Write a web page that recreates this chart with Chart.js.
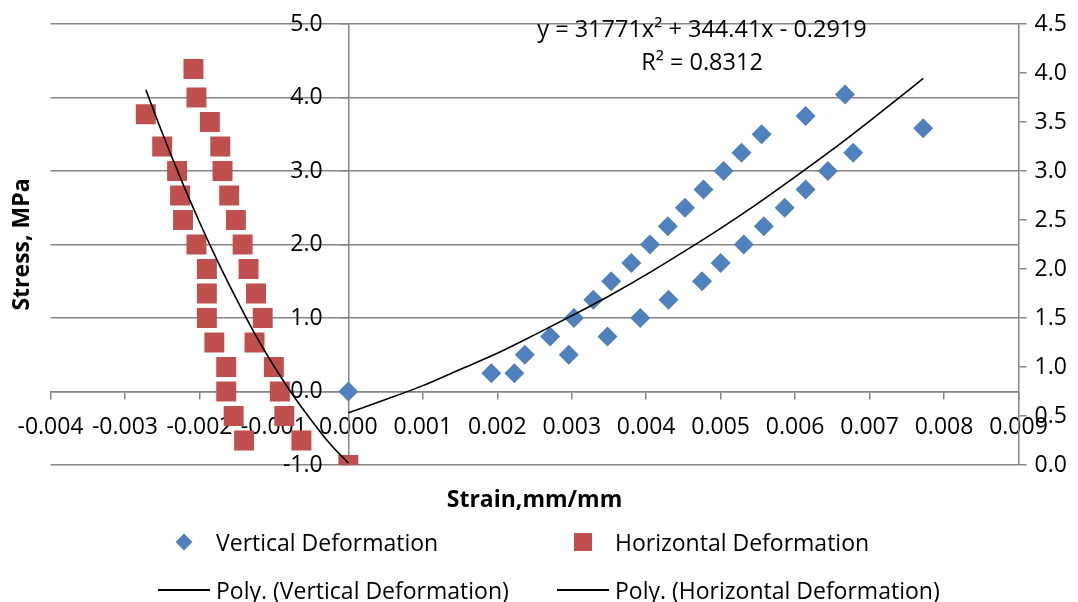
<!DOCTYPE html>
<html><head><meta charset="utf-8">
<script src="https://cdn.jsdelivr.net/npm/chart.js@4.4.1/dist/chart.umd.min.js"></script>
<style>
html,body{margin:0;padding:0;background:#fff;}
#wrap{position:relative;width:1078px;height:602px;overflow:hidden;background:#fff;}
#c{position:absolute;left:0;top:0;}
#legend{position:absolute;left:0;top:0;width:1078px;height:602px;pointer-events:none;font-family:"Open Sans",sans-serif;font-size:23px;color:#000;}
.li{position:absolute;height:30px;display:flex;align-items:center;white-space:nowrap;}
.sym{position:relative;width:52px;height:30px;margin-right:6px;}
.sym .d{position:absolute;left:20px;top:9px;width:12px;height:12px;transform:rotate(45deg);}
.sym .s{position:absolute;left:17px;top:6px;width:18px;height:18px;}
.sym .l{position:absolute;left:0;top:14px;width:52px;height:1.6px;}
</style></head><body>
<div id="wrap"><canvas id="c" width="1078" height="602"></canvas><div id="legend"></div></div>
<script>
// ---- data ----
const stress = [0, 0.25, 0.5, 0.75, 1.0, 1.25, 1.5, 1.75, 2.0, 2.25, 2.5, 2.75, 3.0, 3.25, 3.5, 3.75, 4.04,
                0.25, 0.5, 0.75, 1.0, 1.25, 1.5, 1.75, 2.0, 2.25, 2.5, 2.75, 3.0, 3.25, 3.58];
const verticalStrain = [0, 0.00192, 0.00237, 0.00271, 0.00303, 0.00329, 0.00353, 0.00380, 0.00405, 0.00429, 0.00452, 0.00477, 0.00504, 0.00528, 0.00555, 0.00614, 0.00667,
                        0.00223, 0.00296, 0.00348, 0.00392, 0.00430, 0.00475, 0.00500, 0.00531, 0.00558, 0.00586, 0.00614, 0.00644, 0.00678, 0.00772];
const horizontalStrain = [0, -0.00063, -0.00086, -0.00092, -0.00100, -0.00126, -0.00115, -0.00124, -0.00134, -0.00142, -0.00151, -0.00160, -0.00169, -0.00172, -0.00186, -0.00204, -0.00208,
                          -0.00140, -0.00154, -0.00164, -0.00164, -0.00180, -0.00190, -0.00190, -0.00190, -0.00204, -0.00222, -0.00226, -0.00230, -0.00250, -0.00272];
const vertTrendStrain = [0, 0.0005, 0.001, 0.0015, 0.002, 0.0025, 0.003, 0.0035, 0.004, 0.0045, 0.005, 0.0055, 0.006, 0.0065, 0.007, 0.0075, 0.00772];
const vertTrendStress = [-0.29, -0.11, 0.08, 0.30, 0.52, 0.77, 1.03, 1.30, 1.59, 1.90, 2.22, 2.56, 2.92, 3.29, 3.68, 4.08, 4.26];
const horTrendStrain = [-0.00272, -0.0025, -0.00225, -0.002, -0.00175, -0.0015, -0.00125, -0.001, -0.00075, -0.0005, -0.00025, 0];
const horTrendStress = [3.83, 3.39, 2.92, 2.48, 2.07, 1.69, 1.33, 1.01, 0.72, 0.46, 0.22, 0.02];
const seriesLabels = ['Vertical Deformation', 'Horizontal Deformation', 'Poly. (Vertical Deformation)', 'Poly. (Horizontal Deformation)'];
const xTickValues = [-0.004, -0.003, -0.002, -0.001, 0, 0.001, 0.002, 0.003, 0.004, 0.005, 0.006, 0.007, 0.008, 0.009];
const yTickValues = [-1, 0, 1, 2, 3, 4, 5];
const y2TickValues = [0, 0.5, 1, 1.5, 2, 2.5, 3, 3.5, 4, 4.5];
const xTitle = 'Strain,mm/mm';
const yTitle = 'Stress, MPa';
const trendEquation = 'y = 31771x\u00B2 + 344.41x - 0.2919';
const trendR2 = 'R\u00B2 = 0.8312';

// ---- styles ----
const BLUE = '#4F81BD', RED = '#C0504D', GRID = '#868686';
const FONT = '"Open Sans", sans-serif';

const pts = (xs, ys) => xs.map((v, i) => ({x: v, y: ys[i]}));

const datasets = [
  {label: seriesLabels[0], data: pts(verticalStrain, stress), yAxisID: 'y', showLine: false,
   pointStyle: 'rectRot', pointRadius: 10, pointHoverRadius: 10, backgroundColor: BLUE, borderColor: BLUE, pointBorderWidth: 0, order: 2},
  {label: seriesLabels[1], data: pts(horizontalStrain, stress), yAxisID: 'y2', showLine: false,
   pointStyle: 'rect', pointRadius: 14.1, pointHoverRadius: 14.1, backgroundColor: RED, borderColor: RED, pointBorderWidth: 0, order: 2},
  {label: seriesLabels[2], data: pts(vertTrendStrain, vertTrendStress), yAxisID: 'y', showLine: true,
   pointRadius: 0, borderColor: '#000', backgroundColor: '#000', borderWidth: 1.6, cubicInterpolationMode: 'monotone', order: 1},
  {label: seriesLabels[3], data: pts(horTrendStrain, horTrendStress), yAxisID: 'y2', showLine: true,
   pointRadius: 0, borderColor: '#000', backgroundColor: '#000', borderWidth: 1.6, cubicInterpolationMode: 'monotone', order: 1}
];

const textOverlay = {
  id: 'textOverlay',
  afterDraw(chart) {
    const {ctx, chartArea} = chart;
    ctx.save();
    ctx.fillStyle = '#000';
    ctx.textAlign = 'center';
    ctx.textBaseline = 'middle';
    ctx.font = 'bold 23px ' + FONT;
    ctx.fillText(xTitle, (chartArea.left + chartArea.right) / 2, 500);
    ctx.save();
    ctx.translate(22, (chartArea.top + chartArea.bottom) / 2);
    ctx.rotate(-Math.PI / 2);
    ctx.fillText(yTitle, 0, 0);
    ctx.restore();
    ctx.font = '23.5px ' + FONT;
    ctx.fillText(trendEquation, 702, 30);
    ctx.fillText(trendR2, 702, 63);
    ctx.restore();
  }
};

const tickFont = {family: FONT, size: 23};
const setTicks = arr => s => { s.ticks = arr.map(v => ({value: v})); };

new Chart(document.getElementById('c'), {
  type: 'scatter',
  data: {datasets},
  plugins: [textOverlay],
  options: {
    responsive: false,
    animation: false,
    events: [],
    layout: {padding: {left: 50.5, top: 24, right: 0, bottom: 137}},
    plugins: {legend: {display: false}, tooltip: {enabled: false}},
    scales: {
      x: {
        type: 'linear', position: {y: 0}, min: -0.004, max: 0.009,
        afterBuildTicks: setTicks(xTickValues),
        ticks: {font: tickFont, color: '#000', padding: 15, maxRotation: 0, autoSkip: false,
                callback: v => v.toFixed(3)},
        grid: {drawOnChartArea: false, drawTicks: true, tickLength: 7, color: GRID, lineWidth: 1.5},
        border: {display: true, color: GRID, width: 1.5}
      },
      y: {
        type: 'linear', position: {x: 0}, min: -1, max: 5,
        afterBuildTicks: setTicks(yTickValues),
        ticks: {display: false},
        grid: {drawOnChartArea: true, drawTicks: true, tickLength: 8, color: GRID, lineWidth: 1.5},
        border: {display: true, color: GRID, width: 1.5}
      },
      // carries the primary axis tick labels, set just left of the x = 0 axis line
      yLabels: {
        type: 'linear', position: {x: -0.000345}, min: -1, max: 5,
        afterBuildTicks: setTicks(yTickValues),
        ticks: {font: tickFont, color: '#000', callback: v => v.toFixed(1)},
        grid: {display: false},
        border: {display: false}
      },
      y2: {
        type: 'linear', position: 'right', min: 0, max: 4.5,
        afterBuildTicks: setTicks(y2TickValues),
        afterFit: s => { s.width = 59.5; },
        ticks: {font: tickFont, color: '#000', padding: 8, callback: v => v.toFixed(1)},
        grid: {drawOnChartArea: false, drawTicks: true, tickLength: 8, color: GRID, lineWidth: 1.5},
        border: {display: true, color: GRID, width: 1.5}
      }
    }
  }
});

// ---- HTML legend built from the datasets ----
const legendSlots = [{left: 158, top: 542}, {left: 557, top: 542}, {left: 158, top: 590}, {left: 557, top: 590}];
const legendEl = document.getElementById('legend');
datasets.forEach((ds, i) => {
  const item = document.createElement('div');
  item.className = 'li';
  item.style.left = legendSlots[i].left + 'px';
  item.style.top = (legendSlots[i].top - 15) + 'px';
  const sym = document.createElement('div');
  sym.className = 'sym';
  const mark = document.createElement('div');
  if (ds.showLine) { mark.className = 'l'; mark.style.background = ds.borderColor; }
  else if (ds.pointStyle === 'rectRot') { mark.className = 'd'; mark.style.background = ds.backgroundColor; }
  else { mark.className = 's'; mark.style.background = ds.backgroundColor; }
  sym.appendChild(mark);
  const txt = document.createElement('span');
  txt.textContent = ds.label;
  item.appendChild(sym);
  item.appendChild(txt);
  legendEl.appendChild(item);
});
</script>
</body></html>
